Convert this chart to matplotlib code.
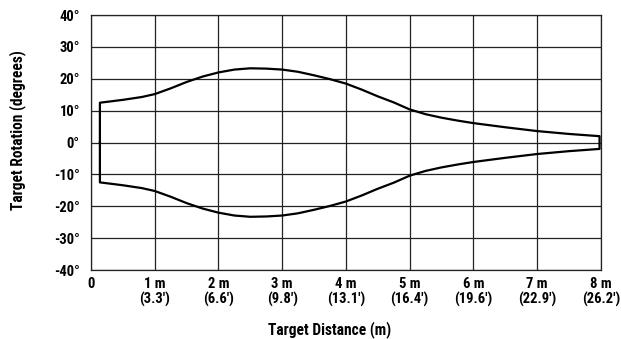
import matplotlib
matplotlib.use("Agg")
import matplotlib.pyplot as plt
import numpy as np

plt.rcParams['font.family'] = ['Roboto Condensed', 'Barlow Condensed', 'Archivo Narrow', 'DejaVu Sans']
plt.rcParams['font.weight'] = 'bold'

# Upper boundary of the field (distance m, rotation deg); lower is mirrored
dist = [0.14, 0.14, 0.5, 0.8, 1.0, 1.25, 1.5, 1.75, 2.0, 2.25, 2.5, 2.75, 3.0, 3.25, 3.5,
        3.75, 4.0, 4.25, 4.5, 4.75, 5.0, 5.25, 5.5, 5.75, 6.0, 6.5, 7.0, 7.5, 7.98, 7.98]
upper = [0.0, 12.5, 13.4, 14.3, 15.2, 17.0, 19.0, 20.7, 22.0, 22.9, 23.3, 23.2, 22.9, 22.2, 21.1,
         19.9, 18.5, 16.6, 14.5, 12.6, 10.4, 8.9, 7.8, 6.9, 6.1, 4.8, 3.6, 2.7, 2.0, 0.0]

xticks = [0, 1, 2, 3, 4, 5, 6, 7, 8]
xlabels = ["0", "1 m\n(3.3')", "2 m\n(6.6')", "3 m\n(9.8')", "4 m\n(13.1')",
           "5 m\n(16.4')", "6 m\n(19.6')", "7 m\n(22.9')", "8 m\n(26.2')"]
yticks = [-40, -30, -20, -10, 0, 10, 20, 30, 40]
ylabels = ["-40°", "-30°", "-20°", "-10°", "0°", "10°", "20°", "30°", "40°"]

FS = 10.5
FL = 11.2
fig = plt.figure(figsize=(6.21, 3.39), dpi=100)
ax = fig.add_axes([0.1465, 0.2035, 0.821, 0.752])

xs = np.array(dist)
up = np.array(upper)
xx = np.concatenate([xs, xs[::-1]])
yy = np.concatenate([up, -up[::-1]])
ax.plot(xx, yy, color='black', lw=1.6, solid_joinstyle='round')

ax.set_xlim(0, 8)
ax.set_ylim(-40, 40)
ax.set_xticks(xticks)
ax.set_xticklabels(xlabels, fontsize=FS, fontweight='bold', linespacing=1.05)
ax.set_yticks(yticks)
ax.set_yticklabels(ylabels, fontsize=FS, fontweight='bold')
ax.tick_params(axis='x', length=0, pad=5)
ax.tick_params(axis='y', length=0, pad=8)
ax.grid(True, color='#222222', lw=0.9)
ax.set_axisbelow(True)
for s in ax.spines.values():
    s.set_color('#222222')
    s.set_linewidth(0.9)

fig.text(18 / 621, 1 - 130 / 339, "Target Rotation (degrees)", rotation=90,
         ha='center', va='center', fontsize=FL, fontweight='bold')
fig.text(330 / 621, 1 - 330 / 339, "Target Distance (m)", ha='center', va='center',
         fontsize=FL, fontweight='bold')

fig.savefig("out.png", dpi=100)
